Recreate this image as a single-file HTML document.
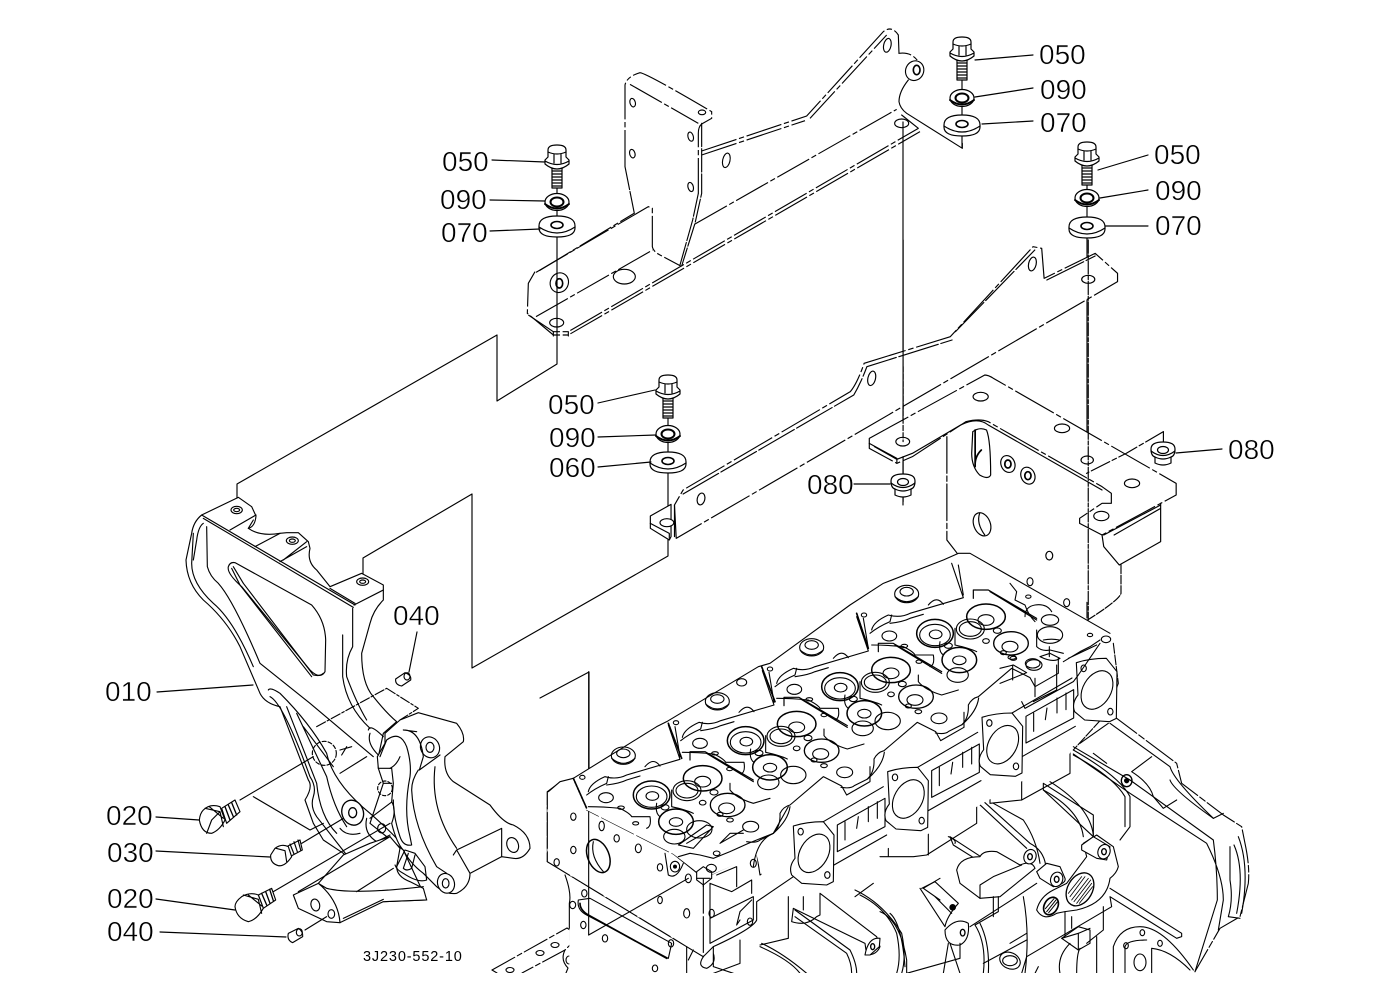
<!DOCTYPE html>
<html><head><meta charset="utf-8"><style>
html,body{margin:0;padding:0;background:#fff}
svg{display:block}
.l{fill:none;stroke:#000;stroke-linejoin:round;stroke-linecap:round}
.w{fill:#fff;stroke:#000;stroke-linejoin:round}
.n{fill:#fff;stroke:none}
.d{fill:none;stroke:#000;stroke-dasharray:110 8 16 8}
text{font-family:"Liberation Sans",sans-serif;font-size:28px;fill:#000;stroke:#fff;stroke-width:.45px}
</style></head><body>
<svg width="1380" height="1002" viewBox="0 0 1380 1002" xmlns="http://www.w3.org/2000/svg">
<defs>
<clipPath id="cp"><rect x="0" y="0" width="1380" height="973"/></clipPath>
<g id="bolt" stroke-width="1.2">
<rect class="w" x="-5" y="22" width="10" height="21"/>
<path class="l" d="M-5,26H5M-5,29H5M-5,32H5M-5,35H5M-5,38H5M-5,41H5"/>
<path class="w" d="M-9,5Q-9,0 0,0Q9,0 9,5V12L12,15V19Q6,24 0,24Q-6,24 -12,19V15L-9,12Z"/>
<path class="l" d="M-9,7Q0,11 9,7M-3,9V18M4,9V18M-12,16Q0,23 12,16"/>
</g>
<g id="w90" stroke-width="1.2"><ellipse class="w" cx="0" cy="0" rx="12" ry="8.5"/><ellipse class="l" cx="0" cy="0" rx="6.5" ry="4.5" stroke-width="2"/><path class="l" d="M-12,2Q0,11 12,2" stroke-width="2"/></g>
<g id="w70" stroke-width="1.2"><path class="w" d="M-18,0Q-18,-10 0,-10Q18,-10 18,0V2Q18,11 0,11Q-18,11 -18,2Z"/><path class="l" d="M-18,1Q0,13 18,1" /><ellipse class="l" cx="0" cy="-1" rx="6" ry="3.5" stroke-width="1.6"/></g>
<g id="nut" stroke-width="1.2"><path class="w" d="M-12,-4Q-12,-11 0,-11Q12,-11 12,-4Q12,3 8,4V10Q0,14 -8,10V4Q-12,3 -12,-4Z"/><ellipse class="l" cx="0" cy="-3" rx="5.5" ry="3.5"/><path class="l" d="M-12,-2Q0,7 12,-2M-8,4Q0,8 8,4"/></g>
<g id="cyl">
<ellipse class="l" cx="250" cy="617" rx="36" ry="26"/><ellipse class="l" cx="250" cy="610" rx="20" ry="13"/><path class="l" d="M215,625Q250,655 285,625"/>
<path class="l" d="M145,725Q150,700 195,680Q230,690 260,675L420,628L385,525M405,530L420,620"/>
<path class="l" d="M140,735Q165,715 200,700L205,680M200,705Q240,700 260,690L300,678"/>
<path class="l" d="M315,650Q340,620 360,648"/>
<ellipse class="w" cx="335" cy="735" rx="55" ry="42" stroke-width="4.5"/><ellipse class="l" cx="335" cy="740" rx="46" ry="32"/><ellipse class="l" cx="337" cy="738" rx="19" ry="13"/>
<ellipse class="w" cx="488" cy="685" rx="58" ry="38" stroke-width="4.5"/><ellipse class="l" cx="488" cy="695" rx="24" ry="16"/>
<path class="l" d="M450,630V605H495L640,690M500,610L640,695" stroke-width="3.6"/>
<ellipse class="w" cx="563" cy="765" rx="52" ry="35" stroke-width="4"/><ellipse class="l" cx="560" cy="775" rx="24" ry="16"/>
<ellipse class="w" cx="408" cy="815" rx="52" ry="38" stroke-width="4.5"/><ellipse class="l" cx="408" cy="816" rx="20" ry="13"/>
<ellipse class="l" cx="441" cy="722" rx="42" ry="30"/><ellipse class="l" cx="441" cy="722" rx="33" ry="22"/>
<ellipse class="l" cx="403" cy="860" rx="32" ry="22"/>
<ellipse class="l" cx="198" cy="743" rx="22" ry="15"/>
<ellipse class="l" cx="488" cy="758" rx="10" ry="7"/><ellipse class="l" cx="243" cy="773" rx="10" ry="5"/><ellipse class="l" cx="287" cy="820" rx="9" ry="5"/><ellipse class="l" cx="375" cy="772" rx="12" ry="8"/><ellipse class="l" cx="522" cy="727" rx="12" ry="8"/><ellipse class="l" cx="540" cy="793" rx="9" ry="6"/><ellipse class="l" cx="570" cy="810" rx="10" ry="6"/>
<ellipse class="l" cx="632" cy="830" rx="24" ry="16"/>
<path class="l" d="M395,720V770Q440,780 460,790M145,770Q190,770 240,775Q270,790 275,800Q310,800 330,800Q335,830 320,835M350,760Q345,790 360,800"/>
</g>
<g id="rim">
<ellipse class="l" cx="478" cy="838" rx="38" ry="26"/>
<path class="l" d="M700,850Q722,830 720,790Q730,770 750,765L850,680L905,708L920,735L990,695V650"/>
<path class="l" d="M570,700V720Q590,745 640,760L690,745"/>
</g>
<g id="cellf">
<path class="w" d="M760,828Q800,815 850,815L882,855L880,995L860,1005L785,1000L755,975Q745,950 765,925Z"/>
<ellipse class="l" cx="822" cy="910" rx="42" ry="62" transform="rotate(30 822 910)"/>
<ellipse class="l" cx="782" cy="845" rx="8" ry="10"/><ellipse class="l" cx="862" cy="975" rx="8" ry="10"/>
</g>
<g id="cellp">
<path class="l" d="M850,815L1030,710M882,945L1040,855"/>
<path class="w" d="M892,825L1035,745V830L892,905Z"/>
<path class="l" d="M915,870V815M950,835L955,800M985,770V815M1012,755V805"/>
<path class="l" d="M750,770Q745,810 700,850L660,870Q650,880 620,875"/>
</g>
</defs>

<!-- dimension / explosion lines -->
<g class="l" stroke-width="1.15">
<path d="M557,335V364L497,401V335L237,484V503"/>
<path d="M668,540V556L472,668V494L363,558V580"/>
<path d="M903,122V505"/>
<path d="M1087,240V618"/>
<path d="M557,160V335M962,50V148M1087,155V240M668,390V530"/>
<path d="M540,698L589,672V935L688,878"/>
</g>

<!-- top bracket -->
<g transform="translate(500,20) scale(.33333)" stroke-width="3.4">
<path class="d" d="M105,755L85,790L82,880L160,945H205L1260,335"/>
<path class="d" d="M85,885L160,935H205L1255,325"/>
<path class="l" d="M160,935V948M205,935V948"/>
<path class="d" d="M108,757L445,560L457,565V680Q460,695 480,705L542,738"/>
<path class="d" d="M118,752L402,580"/>
<path class="d" d="M108,890L458,690"/>
<path class="d" d="M585,612L1190,268"/>
<path class="d" d="M375,440V195Q380,170 420,158Q440,160 635,275V295L605,312Q595,320 595,340V520"/>
<path class="d" d="M390,193L595,310"/>
<path class="l" d="M375,440L403,580M605,310V520L585,610L545,738M595,520L578,600L540,735" stroke-dasharray="70 6"/>
<path class="d" d="M605,393L920,288L1150,35Q1175,15 1195,45L1197,100Q1235,95 1255,125"/>
<path class="d" d="M605,405L915,302M930,295L1160,45"/>
<path class="l" d="M1225,180Q1197,215 1197,245Q1200,265 1220,280L1387,385V370"/>
<path class="l" d="M1205,285L1255,325"/>
<ellipse class="l" cx="398" cy="248" rx="8" ry="13" transform="rotate(-15 398 248)"/>
<ellipse class="l" cx="397" cy="401" rx="8" ry="13" transform="rotate(-15 397 401)"/>
<ellipse class="l" cx="572" cy="350" rx="8" ry="14" transform="rotate(-15 572 350)"/>
<ellipse class="l" cx="572" cy="501" rx="8" ry="14" transform="rotate(-15 572 501)"/>
<ellipse class="l" cx="606" cy="277" rx="11" ry="7"/>
<ellipse class="l" cx="679" cy="421" rx="11" ry="22" transform="rotate(12 679 421)"/>
<ellipse class="l" cx="1162" cy="76" rx="11" ry="21" transform="rotate(12 1162 76)"/>
<ellipse class="l" cx="373" cy="770" rx="33" ry="22"/>
<ellipse class="l" cx="178" cy="788" rx="27" ry="30" transform="rotate(25 178 788)"/><ellipse class="l" cx="178" cy="790" rx="10" ry="14" stroke-width="5"/>
<ellipse class="l" cx="170" cy="908" rx="21" ry="13"/>
<ellipse class="l" cx="1244" cy="152" rx="27" ry="30" transform="rotate(25 1244 152)"/><ellipse class="l" cx="1250" cy="150" rx="10" ry="14" stroke-width="5"/>
<ellipse class="l" cx="1205" cy="310" rx="21" ry="13"/>
</g>

<!-- middle bracket + big plate -->
<g transform="translate(640,240) scale(.3448,.33333)" stroke-width="3.4">
<path class="n" d="M890,590V900L920,940L1000,960L1400,1130V975L1510,905V790L1340,885L1275,850V835L1340,790L1365,770L1340,740L990,545H940Z"/>
<path class="l" d="M890,590V900L920,940" stroke-dasharray="110 8 16 8"/>
<path class="w" style="stroke-dasharray:130 8 16 8" d="M665,595L1000,405Q1010,405 1025,415L1555,730V765L1340,885L1275,850V835L1340,790L1367,790V760L1340,740L1010,545Q985,535 945,545L790,650L745,670L665,625Z"/>
<path class="l" d="M680,620L745,658L790,640L930,555Q980,530 1010,555L1340,750M665,610L745,655V670"/>
<path class="l" d="M1340,885L1345,920L1390,975L1510,905V790M1375,885L1510,805M1345,885L1510,795"/>
<path class="l" d="M1395,975V1060Q1390,1080 1298,1140" stroke-dasharray="26 5"/>
<ellipse class="l" cx="988" cy="470" rx="22" ry="13"/><ellipse class="l" cx="1224" cy="565" rx="22" ry="13"/><ellipse class="l" cx="1297" cy="660" rx="18" ry="12"/><ellipse class="l" cx="1427" cy="730" rx="22" ry="13"/><ellipse class="l" cx="1338" cy="828" rx="22" ry="14"/><ellipse class="l" cx="762" cy="605" rx="20" ry="13"/>
<path class="l" d="M965,575Q985,560 1005,570Q1017,600 1017,705Q1010,720 985,705Q962,680 962,640Z"/>
<path class="l" d="M972,570V680Q970,650 990,630" stroke-width="5"/>
<ellipse class="l" cx="1067" cy="672" rx="20" ry="26" transform="rotate(-20 1067 672)"/><ellipse class="l" cx="1067" cy="672" rx="9" ry="12" stroke-width="5"/>
<ellipse class="l" cx="1125" cy="707" rx="20" ry="26" transform="rotate(-20 1125 707)"/><ellipse class="l" cx="1125" cy="707" rx="9" ry="12" stroke-width="5"/>
<ellipse class="l" cx="992" cy="853" rx="24" ry="36" transform="rotate(-20 992 853)"/><path class="l" d="M985,820Q975,850 1000,885"/>
<ellipse class="l" cx="1187" cy="947" rx="10" ry="13"/>
<path class="w" style="stroke-dasharray:130 8 16 8" d="M105,895L100,795L125,750L610,455Q630,430 650,370L900,290L1140,20L1165,25L1172,115L1320,40L1385,100V125L105,895Z"/>
<path class="l" d="M125,762L620,465Q640,430 658,380L905,300M915,275L1145,30M1180,120L1320,48" stroke-dasharray="120 8"/>
<path class="w" d="M30,828L90,793V890L85,900L30,865Z"/>
<path class="l" d="M30,850L85,880V895M100,795V890"/>
<ellipse class="w" cx="78" cy="848" rx="20" ry="12"/>
<ellipse class="l" cx="672" cy="415" rx="11" ry="22" transform="rotate(12 672 415)"/>
<ellipse class="l" cx="177" cy="777" rx="11" ry="18" transform="rotate(12 177 777)"/>
<ellipse class="l" cx="1138" cy="72" rx="11" ry="21" transform="rotate(12 1138 72)"/>
<ellipse class="l" cx="1300" cy="118" rx="19" ry="12"/>
<path class="l" d="M1300,0V1140" stroke-dasharray="40 5 12 5"/>
<path class="l" d="M763,0V510" /><path class="l" d="M763,380V605" stroke-dasharray="16 6"/>
<path class="l" d="M1518,575L1410,640L1295,700" stroke-dasharray="60 8 14 8"/>
<path class="l" d="M1518,575V610"/>
<path class="l" d="M763,650V785"/>
</g>

<!-- engine -->
<g clip-path="url(#cp)">
<!-- lower block right -->
<g transform="translate(880,550) scale(.33333)" stroke-width="3.3">
<path class="n" d="M690,490L890,640L905,700L1030,795L1085,830L1095,880Q1110,950 1105,1000L1080,1100L1020,1135L950,1270H0V600Z"/>
<path class="l" d="M690,490L890,640L905,700L1030,795L1085,830L1095,880Q1110,950 1105,1000L1080,1100L1020,1135L945,1265" stroke-dasharray="100 8 20 8"/>
<path class="l" d="M690,520L870,650Q880,690 1000,805M600,580L685,520"/>
<path class="l" d="M580,590L750,690L1000,870Q1012,960 1012,1050L945,1265M580,612L750,730L980,880Q1030,980 1030,1050L1015,1140"/>
<path class="l" d="M640,610L680,640M755,665L815,620M850,775L890,750M755,665Q810,700 820,740L850,775"/>
<path class="l" d="M870,690Q880,720 1000,805L1030,790M1050,890V990Q1060,1050 1045,1100L1080,1105M1062,885Q1095,960 1070,1090M1075,860Q1110,950 1085,1090"/>
<path class="l" d="M580,600Q720,680 750,740V830L720,870M580,615Q700,680 735,740V830"/>
<path class="w" d="M490,700L640,795V860L490,720Z"/>
<path class="l" d="M490,720Q600,780 610,860M510,695Q630,770 640,855"/>
<path class="l" d="M295,740L450,880Q490,900 497,945M295,760L440,895M340,760L430,810Q470,870 480,940"/>
<path class="w" d="M210,860L310,925L300,935L220,885Z"/>
<path class="w" d="M230,960Q240,920 300,920Q310,900 350,905L420,945Q455,930 465,955L360,1040L300,1045L240,1000Z"/>
<path class="l" d="M300,1045V1005L340,980L425,945"/>
<ellipse class="w" cx="450" cy="920" rx="18" ry="22" transform="rotate(20 450 920)"/><ellipse class="l" cx="450" cy="920" rx="7" ry="9" stroke-width="4"/>
<path class="w" d="M470,965L500,940L540,950L555,985Q560,1000 520,1010L480,985Z"/>
<ellipse class="w" cx="530" cy="988" rx="18" ry="22" transform="rotate(20 530 988)"/><ellipse class="l" cx="530" cy="988" rx="7" ry="9" stroke-width="4"/>
<path class="w" d="M610,880L650,855L700,890L715,950Q710,970 690,985Q680,1060 590,1080Q550,1085 530,1090Q490,1115 470,1080Q480,1040 520,1020L560,1000Q590,960 620,920Z"/>
<path class="w" d="M605,885L640,860L690,890L680,930L650,925L605,900Z"/>
<ellipse class="w" cx="672" cy="905" rx="18" ry="22" transform="rotate(20 672 905)"/><ellipse class="l" cx="672" cy="905" rx="7" ry="9" stroke-width="4"/>
<ellipse class="l" cx="600" cy="1018" rx="37" ry="53" transform="rotate(30 600 1018)" stroke-width="4"/>
<path class="l" d="M575,1050L625,985M582,1055L632,990M590,1060L635,1000M570,1040L615,980M565,1030L605,980M598,1060L638,1010" stroke-width="2.5"/>
<ellipse class="l" cx="513" cy="1068" rx="20" ry="28" transform="rotate(30 513 1068)" stroke-width="5"/>
<path class="l" d="M500,1085L528,1050M506,1088L532,1056M496,1076L522,1046" stroke-width="3"/>
<ellipse class="l" cx="740" cy="692" rx="16" ry="18" stroke-width="4"/><circle cx="740" cy="692" r="8"/>
<path class="w" d="M545,1165L595,1130L630,1140V1180L595,1200Z"/><path class="l" d="M595,1150V1200M545,1165L595,1150L630,1135"/>
<path class="l" d="M690,1015L905,1150V1160L890,1165L690,1040L695,1070L440,1220L425,1270M555,1085V1160M575,1100V1135M670,1070V1140L620,1180"/>
<path class="l" d="M700,1270V1190Q720,1130 780,1130Q850,1130 940,1260M735,1270V1190Q740,1170 800,1170M815,1195V1270M815,1195Q870,1200 930,1260"/>
<ellipse class="l" cx="780" cy="1237" rx="18" ry="25"/><ellipse class="l" cx="787" cy="1148" rx="7" ry="9"/><ellipse class="l" cx="738" cy="1187" rx="7" ry="9"/><ellipse class="l" cx="840" cy="1180" rx="7" ry="9"/>
<path class="l" d="M125,1015L165,995L235,1060Q200,1100 195,1130L120,1015M165,1040L215,1090"/><circle cx="218" cy="1072" r="10"/>
<path class="w" d="M195,1140Q230,1100 265,1120Q270,1170 240,1185Q195,1190 195,1140Z"/><ellipse class="l" cx="248" cy="1148" rx="7" ry="10" stroke-width="4"/>
<path class="l" d="M0,1085Q60,1110 80,1230V1270M30,1090Q65,1120 75,1250M240,1180V1225L80,1270M205,1180L190,1270M210,1180L240,1270M285,1125Q320,1180 310,1270M300,1120Q330,1180 325,1270"/>
<path class="l" d="M270,1130L410,1040L470,1000M430,1040Q450,1150 435,1270M340,1040V1100M355,1040V1085L285,1125"/>
<path class="l" d="M440,1170L310,1240M440,1150L390,1180"/>
<ellipse class="l" cx="390" cy="1232" rx="32" ry="24" transform="rotate(25 390 1232)"/><ellipse class="l" cx="390" cy="1232" rx="22" ry="15"/>
<path class="l" d="M540,1270Q530,1220 570,1180M590,1270Q590,1210 600,1195M650,1270V1160M465,1270L475,1250"/>
<path class="l" d="M0,920L100,920L140,915L290,820V740M145,850V915M205,860Q230,870 225,880M25,920V870"/>
<path class="l" d="M425,650V750L330,760V710M425,750L570,670V590L560,550"/>
</g>
<!-- lower block left -->
<g stroke-width="1.1">
<path class="l" d="M492,970L567,928L570,930V945L565,950L522,973" stroke-dasharray="26 3 5 3"/>
<path class="l" d="M492,970L497,973M565,950Q560,960 568,968L566,973"/>
<g class="l"><ellipse cx="555" cy="945" rx="4" ry="2.5"/><ellipse cx="540" cy="953" rx="4" ry="2.5"/><ellipse cx="510" cy="970" rx="4" ry="2.5"/><ellipse cx="569" cy="960" rx="3" ry="4"/></g>
</g>
<g transform="translate(540,550) scale(.33333)" stroke-width="3.3">
<path class="n" d="M75,975Q95,1030 88,1060V1270H500V985Z"/>
<path class="l" d="M75,975Q95,1030 88,1060V1135"/>
<path class="l" d="M22,935L490,1220" stroke-dasharray="90 8 16 8"/>
<path class="l" d="M22,725V935" stroke-dasharray="40 6"/>
<path class="w" d="M22,725L62,695L100,690L140,780L400,912L470,968L490,985V1220L440,1190L22,935Z" stroke-dasharray="110 8"/>
<path class="l" d="M115,1050Q110,1080 140,1095L385,1225L395,1180L150,1045Z"/>
<path class="l" d="M120,1060Q120,1080 145,1095L380,1225" stroke-width="5"/>
<path class="l" d="M30,722L140,775"/>
<g class="l"><ellipse cx="100" cy="800" rx="8" ry="11"/><ellipse cx="185" cy="828" rx="8" ry="14"/><ellipse cx="230" cy="865" rx="8" ry="11"/><ellipse cx="295" cy="895" rx="9" ry="13"/><ellipse cx="100" cy="900" rx="8" ry="11"/><ellipse cx="50" cy="937" rx="8" ry="11"/><ellipse cx="360" cy="952" rx="8" ry="11"/><ellipse cx="445" cy="985" rx="9" ry="13"/><ellipse cx="360" cy="1050" rx="7" ry="11"/><ellipse cx="440" cy="1090" rx="9" ry="14"/><ellipse cx="133" cy="1030" rx="8" ry="11"/><ellipse cx="98" cy="1065" rx="9" ry="11"/><ellipse cx="130" cy="1125" rx="8" ry="11"/><ellipse cx="195" cy="1165" rx="8" ry="11"/><ellipse cx="393" cy="1180" rx="8" ry="11"/><ellipse cx="345" cy="1255" rx="8" ry="10"/></g>
<ellipse class="l" cx="175" cy="918" rx="32" ry="52" transform="rotate(-22 175 918)" stroke-width="4.5"/><path class="l" d="M160,875Q150,920 190,965"/>
<path class="l" d="M146,365V1155" /><path class="l" d="M146,1155L445,985"/>
<path class="l" d="M490,985L650,910L660,975L750,920L760,980L650,1055V1110Q640,1135 520,1190L490,1220"/>
<path class="l" d="M510,1000V1180L640,1110V1040L510,1105M510,1000L575,1025L635,990V1030"/>
<path class="l" d="M530,975L590,950V1010"/>
<path class="l" d="M600,1110L590,1125L600,1085L635,1050"/>
<path class="l" d="M490,1220Q470,1250 500,1255Q530,1240 520,1210M440,1190V1270M460,1200L445,1230M520,1250L580,1270M520,1190V1250M600,1170V1240L520,1270"/>
<path class="l" d="M660,1190Q750,1230 780,1270M665,1180Q730,1210 800,1270"/>
<path class="l" d="M745,1040V1165L660,1185M790,1040V1080"/>
<path class="w" d="M840,1030L1010,1160L1020,1190Q1010,1215 980,1215L975,1180L760,1075L755,1115Q800,1130 830,1100L840,1095Z"/>
<path class="w" d="M975,1215Q985,1160 1020,1165L1018,1190L990,1215Z"/><ellipse class="l" cx="998" cy="1190" rx="6" ry="9" stroke-width="4"/>
<path class="l" d="M765,1080L930,1200Q950,1240 950,1270M765,1100L920,1210Q935,1240 935,1270"/>
<path class="l" d="M945,1020Q1030,1060 1085,1150Q1100,1220 1085,1270M960,1035Q1040,1075 1070,1150Q1085,1220 1070,1270M945,1040L1000,1000"/>
<path class="l" d="M1150,1015L1200,985M1150,1015L1200,1050"/>
</g>
<!-- head -->
<g transform="translate(540,550) scale(.33333)" stroke-width="3.3">
<path class="n" d="M25,725L60,695L100,685L350,530L380,515L655,350L690,340L930,165L1030,100L1210,30L1255,10L1290,10L1710,250L1725,290L1735,400L1700,490L1610,560L1590,610L1400,720L1150,860L890,945L880,1000L790,1000L755,965L665,975L650,915L490,985L470,965L400,912L140,780Z"/>
<path class="l" d="M25,725L60,695L100,685L350,530L380,515L655,350L690,340L930,165L1030,100L1210,30L1255,10L1290,10L1710,250"/>
<path class="l" d="M1720,280L1735,400L1700,490L1600,600" stroke-dasharray="30 5"/>
<use href="#cyl"/>
<use href="#cyl" x="282" y="-163"/>
<use href="#cyl" x="565" y="-325"/>
<use href="#cyl" x="850" y="-485"/>
<use href="#rim"/>
<use href="#rim" x="282" y="-163"/>
<use href="#rim" x="565" y="-325"/>
<path class="l" d="M385,520L425,625M665,350L705,455M950,190L985,295" stroke-width="5" stroke-dasharray="7 3"/>
<path class="l" d="M100,685L140,775" stroke-width="5" stroke-dasharray="7 3"/>
<ellipse class="l" cx="127" cy="682" rx="8" ry="6"/><ellipse class="l" cx="408" cy="518" rx="8" ry="6"/><ellipse class="l" cx="690" cy="357" rx="8" ry="6"/><ellipse class="l" cx="972" cy="195" rx="8" ry="6"/>
<ellipse class="l" cx="605" cy="397" rx="15" ry="11"/>
<path class="l" d="M375,910L385,975Q410,990 430,940M415,920L450,910L480,915L520,925L570,905L625,880L700,850L745,770"/>
<ellipse class="l" cx="405" cy="950" rx="14" ry="16"/><circle cx="405" cy="950" r="6"/>
<path class="l" d="M415,885L500,825L520,830L460,895ZM440,880L510,840"/>
<path class="l" d="M610,840L540,880L570,850L610,850"/>
<ellipse class="l" cx="530" cy="910" rx="10" ry="7"/>
<path class="w" d="M470,965L490,950L515,965V985L490,1005L470,990Z"/><path class="l" d="M470,985L490,985L510,985M490,985V1010"/>
<ellipse class="l" cx="514" cy="955" rx="15" ry="12"/>
<ellipse class="l" cx="640" cy="940" rx="9" ry="12"/>
<ellipse class="l" cx="515" cy="1090" rx="8" ry="12"/><ellipse class="l" cx="630" cy="1115" rx="8" ry="11"/>
<use href="#cellp"/>
<use href="#cellf"/>
<use href="#cellp" x="283" y="-163"/>
<use href="#cellf" x="283" y="-163"/>
<use href="#cellp" x="566" y="-326"/>
<use href="#cellf" x="566" y="-326"/>
<use href="#cellf" x="849" y="-490" />
<path class="l" d="M640,950Q650,870 700,850"/>
</g>
<!-- head right end -->
<g transform="translate(1000,550) scale(.33333)" stroke-width="3.3">
<path class="l" d="M30,100L50,125L45,150L75,165Q85,195 105,215M75,200Q75,170 105,165Q140,160 155,185M110,240V290Q125,305 150,300L190,310"/>
<ellipse class="l" cx="150" cy="210" rx="26" ry="16"/><ellipse class="l" cx="150" cy="255" rx="38" ry="25"/><path class="l" d="M130,270Q155,265 178,270"/>
<ellipse class="w" cx="90" cy="95" rx="9" ry="12"/><ellipse class="w" cx="200" cy="158" rx="9" ry="12"/>
<ellipse class="l" cx="85" cy="140" rx="8" ry="5"/><ellipse class="l" cx="270" cy="255" rx="8" ry="5"/><ellipse class="l" cx="318" cy="268" rx="14" ry="10"/>
<ellipse class="l" cx="98" cy="340" rx="22" ry="14"/><ellipse class="l" cx="36" cy="322" rx="12" ry="6"/>
<path class="l" d="M148,290V320M120,320L150,310L180,325Q160,340 120,320M0,355L40,345L80,368L0,400M38,345V390"/>
<path class="l" d="M190,335L240,305L270,290L300,270M205,325L290,285"/>
<path class="l" d="M65,455L75,475L220,395L235,375L300,280M170,345V420L100,455M105,385V440"/>
</g>
</g>

<!-- left bracket -->
<g transform="translate(170,490) scale(.33333)" stroke-width="3.4">
<path class="w" d="M95,75L205,22L245,50L258,78Q255,110 235,115Q270,140 330,130L350,128H385L415,155L420,175Q410,215 440,240L480,290L575,250L640,285V330Q610,360 600,400L575,490Q575,580 610,620Q650,670 680,695L640,730L625,800V835L640,880L600,1000L700,1080L770,1230L640,1235L520,1090L460,1050L430,1000L405,930Q430,890 415,870L330,650Q285,640 270,610L210,470Q170,390 100,330Q50,280 48,210L65,130Q70,95 95,75Z"/>
<path class="l" d="M95,75L555,345M100,85L550,352M552,345L640,300M480,295L555,340M410,170L330,215M410,155L340,210M255,170L330,130M258,75L180,120M235,115L250,90"/>
<path class="l" d="M110,110L112,230Q120,260 145,280Q190,330 270,520L420,640L610,800"/>
<path class="l" d="M70,130L65,220Q65,280 130,340Q190,390 250,530" />
<path class="l" d="M100,100Q85,110 80,150L70,210"/>
<path class="l" d="M195,218L425,345Q465,390 467,450L465,545Q450,570 420,540L215,290Q170,250 175,230Q180,215 195,218Z"/>
<path class="l" d="M190,230L220,280L430,555Q450,560 460,550M185,235L210,285L425,560"/>
<path class="l" d="M548,355V470Q525,510 530,560Q560,640 590,690M518,435V560Q530,650 600,715"/>
<ellipse class="l" cx="200" cy="60" rx="17" ry="11"/><ellipse class="l" cx="200" cy="60" rx="9" ry="5"/>
<ellipse class="l" cx="367" cy="152" rx="18" ry="11"/><ellipse class="l" cx="367" cy="152" rx="9" ry="5"/>
<ellipse class="l" cx="578" cy="275" rx="18" ry="11"/><ellipse class="l" cx="578" cy="275" rx="9" ry="5"/>
<path class="l" d="M295,600Q300,590 330,610Q420,700 470,790Q490,880 600,970Q680,1040 700,1070M300,620Q340,640 420,860Q440,890 430,920Q420,950 440,980L530,1095"/>
<path class="l" d="M350,650L440,880Q450,980 500,1030M380,670L470,860Q490,950 530,1010M400,710L490,830"/>
<path class="l" d="M440,710L650,595M650,595L745,655L690,690" stroke-dasharray="30 6 8 6"/>
<path class="l" d="M510,850L590,800"/>
<path class="l" d="M210,930L430,800M250,920L420,1020L460,1000"/>
<path class="l" d="M395,1060L520,985M310,1205L660,1000M600,985L760,865"/>
<circle class="l" cx="463" cy="790" r="36" stroke-dasharray="12 6"/>
<circle class="l" cx="645" cy="895" r="22" stroke-dasharray="10 6"/>
<path class="l" d="M510,780L545,770M515,795L530,770M640,880L665,880"/>
<!-- right casting -->
<path class="w" d="M645,730L690,690L745,668L860,700Q885,730 880,755L825,800Q820,850 850,875L960,945Q1000,1000 1030,1005Q1080,1030 1080,1075Q1060,1110 1030,1105L995,1100L900,1150Q900,1190 860,1210Q830,1215 800,1190L760,1150Q720,1120 700,1080Q680,1060 665,1000Q680,960 665,935L670,880L665,835H625L622,800L645,760Z"/>
<path class="l" d="M630,800L650,750Q690,720 710,770Q725,820 720,860Q700,960 720,1040L725,1065Q700,1070 690,1040Q670,980 670,930"/>
<path class="l" d="M700,720Q750,720 760,800L748,840L810,795M700,720L740,725M745,840Q725,870 725,900Q730,1010 800,1130L830,1150"/>
<path class="l" d="M690,800Q680,825 660,835M600,730Q590,760 625,795M595,720Q600,700 640,740"/>
<ellipse class="l" cx="780" cy="772" rx="28" ry="32" transform="rotate(-25 780 772)"/><ellipse class="l" cx="780" cy="772" rx="12" ry="15"/>
<path class="l" d="M795,830Q780,960 860,1075M860,1080L995,1015V1100M850,1095L860,1080L900,1150"/>
<ellipse class="l" cx="1028" cy="1065" rx="17" ry="23" transform="rotate(-20 1028 1065)"/>
<ellipse class="w" cx="828" cy="1180" rx="25" ry="30" transform="rotate(-20 828 1180)"/><ellipse class="l" cx="827" cy="1180" rx="10" ry="14"/>
<ellipse class="w" cx="548" cy="968" rx="32" ry="38" transform="rotate(-20 548 968)" stroke-width="4"/><ellipse class="l" cx="548" cy="968" rx="12" ry="15" stroke-width="4"/>
<ellipse class="l" cx="635" cy="1015" rx="12" ry="14"/>
<path class="l" d="M590,985Q580,1030 620,1055L660,1035M510,1015Q530,1040 570,1030"/>
<!-- lower lug -->
<path class="w" d="M370,1215L445,1180L520,1095L600,1060L660,1040L690,1075L680,1130Q680,1160 720,1175L760,1195L770,1230L640,1235L510,1298L470,1295L385,1255Z"/>
<path class="l" d="M385,1205L520,1125L660,1040M445,1180Q505,1230 510,1298M445,1180L470,1195Q545,1215 760,1190M560,1205L670,1135M520,1285L640,1228"/>
<path class="l" d="M680,1130L705,1080L735,1090L765,1130L770,1170Q745,1180 700,1150Q680,1140 675,1125M715,1090L700,1135Q710,1145 725,1135L735,1095"/>
<ellipse class="l" cx="436" cy="1245" rx="13" ry="18" transform="rotate(-15 436 1245)"/>
<ellipse class="l" cx="484" cy="1272" rx="10" ry="13"/>
<path class="l" d="M405,1320L470,1280"/>
<!-- 020 upper -->
<path class="w" d="M155,955L195,930L210,965L170,1000Z"/>
<path class="l" d="M165,950L180,990M175,945L190,980M185,938L200,975" stroke-width="4"/>
<path class="w" d="M100,960Q120,940 150,950L165,990Q150,1020 125,1030Q95,1030 88,990Q90,970 100,960Z"/>
<path class="l" d="M105,955L150,965L160,1010M118,950L160,985M110,1030L125,990Q145,970 150,965"/>
<!-- 030 -->
<path class="w" d="M350,1070L390,1050L397,1080L360,1100Z"/>
<path class="l" d="M360,1062L372,1092M372,1055L382,1085M384,1050L392,1080" stroke-width="3.5"/>
<path class="w" d="M315,1075Q335,1060 355,1070L365,1100Q345,1130 325,1127Q300,1120 302,1095Z"/>
<path class="l" d="M318,1075L345,1082L350,1115"/>
<!-- 020 lower -->
<path class="w" d="M265,1215L305,1195L317,1230L280,1255Z"/>
<path class="l" d="M275,1210L290,1245M287,1205L300,1240M299,1198L310,1232" stroke-width="4"/>
<path class="w" d="M215,1220Q240,1205 265,1215L280,1255Q260,1290 235,1295Q200,1285 195,1250Q195,1235 215,1220Z"/>
<path class="l" d="M220,1215L265,1228L275,1270M235,1215L275,1248"/>
<!-- pins -->
<path class="w" d="M677,567L705,548Q725,555 722,570L695,588Q675,585 677,567Z"/><ellipse class="l" cx="711" cy="559" rx="9" ry="11"/>
<path class="w" d="M355,1330L385,1315Q400,1325 398,1340L368,1358Q350,1350 355,1330Z"/><ellipse class="l" cx="388" cy="1327" rx="9" ry="11"/>
</g>

<!-- fasteners -->
<use href="#bolt" x="962" y="37"/><use href="#w90" x="962" y="98"/><use href="#w70" x="962" y="125"/>
<use href="#bolt" x="557" y="145"/><use href="#w90" x="557" y="202"/><use href="#w70" x="557" y="226"/>
<use href="#bolt" x="1087" y="142"/><use href="#w90" x="1087" y="198"/><use href="#w70" x="1087" y="227"/>
<use href="#bolt" x="668" y="375"/><use href="#w90" x="668" y="434"/><use href="#w70" x="668" y="462"/>
<use href="#nut" x="903" y="485"/><use href="#nut" x="1163" y="453"/>

<!-- leaders -->
<g class="l" stroke-width="1.15">
<path d="M1033,55L975,60M1033,88L975,97M1033,121L982,124"/>
<path d="M492,160L545,162M490,200L545,201M490,231L540,229"/>
<path d="M1148,155L1098,170M1148,190L1100,198M1148,226L1105,226"/>
<path d="M598,403L655,390M598,437L656,435M598,467L651,462"/>
<path d="M1222,449L1176,453M854,484L890,484"/>
<path d="M157,692L253,685M156,817L199,820M156,851L270,857M156,899L235,910M160,932L286,937M417,632L409,672"/>
</g>

<!-- labels -->
<text x="1039" y="64">050</text><text x="1040" y="99">090</text><text x="1040" y="132">070</text>
<text x="442" y="171">050</text><text x="440" y="209">090</text><text x="441" y="242">070</text>
<text x="1154" y="164">050</text><text x="1155" y="200">090</text><text x="1155" y="235">070</text>
<text x="548" y="414">050</text><text x="549" y="447">090</text><text x="549" y="477">060</text>
<text x="1228" y="459">080</text><text x="807" y="494">080</text><text x="393" y="625">040</text>
<text x="105" y="701">010</text><text x="106" y="825">020</text><text x="107" y="862">030</text><text x="107" y="908">020</text><text x="107" y="941">040</text>
<text x="363" y="961" style="font-size:14.5px;letter-spacing:.85px;stroke:none">3J230-552-10</text>
</svg>
</body></html>
